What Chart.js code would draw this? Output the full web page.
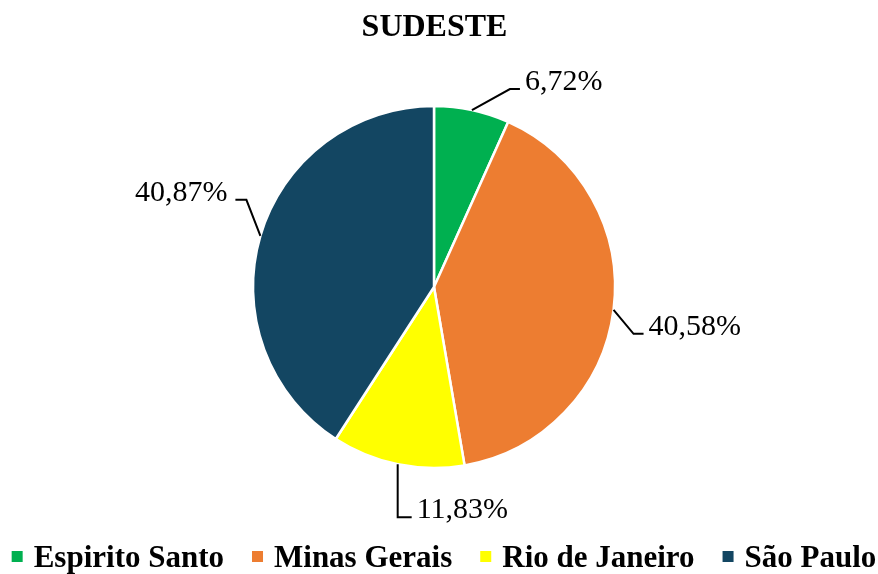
<!DOCTYPE html>
<html>
<head>
<meta charset="utf-8">
<script src="https://cdn.jsdelivr.net/npm/chart.js@4.4.1/dist/chart.umd.min.js"></script>
<style>
  html, body { margin: 0; padding: 0; background: #ffffff; }
  #wrap { width: 878px; height: 574px; position: relative; }
</style>
</head>
<body>
<div id="wrap"><canvas id="c" width="878" height="574"></canvas></div>
<script>
const chartTitle = 'SUDESTE';
const categories = ['Espirito Santo', 'Minas Gerais', 'Rio de Janeiro', 'São Paulo'];
const shares = [6.72, 40.58, 11.83, 40.87];
const valueLabels = ['6,72%', '40,58%', '11,83%', '40,87%'];
const sliceColors = ['#00B050', '#ED7D31', '#FFFF00', '#134662'];

// leader line geometry (elbow offset from slice edge point, horizontal run, side)
const leaders = [
  { dx: 38, dy: -21, run: 10, side: 'right' },
  { dx: 20, dy: 24, run: 10, side: 'right' },
  { dx: 0, dy: 53, run: 14, side: 'right' },
  { dx: -14, dy: -36, run: 11, side: 'left' }
];

const labelPlugin = {
  id: 'customText',
  afterDraw(chart) {
    const ctx = chart.ctx;
    const meta = chart.getDatasetMeta(0);
    ctx.save();
    // title
    ctx.fillStyle = '#000';
    ctx.font = 'bold 32px "Liberation Serif", "Times New Roman", serif';
    ctx.textAlign = 'center';
    ctx.textBaseline = 'alphabetic';
    ctx.fillText(chartTitle, 434.5, 36);

    // data labels with leader lines
    ctx.font = '30px "Liberation Serif", "Times New Roman", serif';
    ctx.strokeStyle = '#000';
    ctx.lineWidth = 2;
    meta.data.forEach((arc, i) => {
      const p = arc.getProps(['x', 'y', 'startAngle', 'endAngle', 'outerRadius'], true);
      const mid = (p.startAngle + p.endAngle) / 2;
      const sx = p.x + Math.cos(mid) * p.outerRadius;
      const sy = p.y + Math.sin(mid) * p.outerRadius;
      const L = leaders[i];
      const ex = sx + L.dx, ey = sy + L.dy;
      const hx = L.side === 'right' ? ex + L.run : ex - L.run;
      ctx.beginPath();
      ctx.moveTo(sx, sy);
      ctx.lineTo(ex, ey);
      ctx.lineTo(hx, ey);
      ctx.stroke();
      if (L.side === 'right') {
        ctx.textAlign = 'left';
        ctx.fillText(valueLabels[i], hx + 5, ey + 1);
      } else {
        ctx.textAlign = 'right';
        ctx.fillText(valueLabels[i], hx - 8, ey + 1);
      }
    });

    // legend
    ctx.font = 'bold 31px "Liberation Serif", "Times New Roman", serif';
    ctx.textAlign = 'left';
    const box = 11, boxGap = 11, itemGap = 28;
    const widths = categories.map(t => ctx.measureText(t).width);
    const total = widths.reduce((a, b) => a + b, 0) + categories.length * (box + boxGap) + (categories.length - 1) * itemGap;
    let x = 444 - total / 2;
    const baseY = 567;
    categories.forEach((t, i) => {
      ctx.fillStyle = sliceColors[i];
      ctx.fillRect(x, 551, box, 11);
      x += box + boxGap;
      ctx.fillStyle = '#000';
      ctx.fillText(t, x, baseY);
      x += widths[i] + itemGap;
    });
    ctx.restore();
  }
};

new Chart(document.getElementById('c'), {
  type: 'pie',
  data: {
    labels: categories,
    datasets: [{
      data: shares,
      backgroundColor: sliceColors,
      borderColor: '#ffffff',
      borderWidth: 2.5
    }]
  },
  options: {
    responsive: false,
    animation: false,
    radius: 181,
    layout: { padding: { left: 0, right: 10, top: 0, bottom: 0 } },
    plugins: {
      legend: { display: false },
      title: { display: false },
      tooltip: { enabled: false }
    }
  },
  plugins: [labelPlugin]
});
</script>
</body>
</html>
